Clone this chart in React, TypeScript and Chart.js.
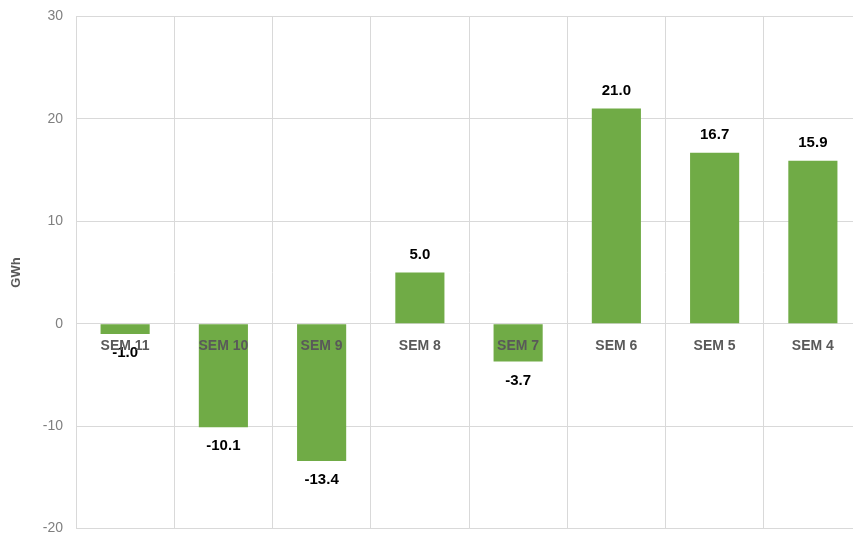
import React, { useEffect, useRef } from "react";
import { Chart, registerables } from "chart.js";

Chart.register(...registerables);

const categories = ["SEM 11", "SEM 10", "SEM 9", "SEM 8", "SEM 7", "SEM 6", "SEM 5", "SEM 4"];
const values = [-1.0, -10.1, -13.4, 5.0, -3.7, 21.0, 16.7, 15.9];
const yTicks = [-20, -10, 0, 10, 20, 30];
const yTitle = "GWh";

const FONT = "'Liberation Sans', Arial, sans-serif";

const valueLabels = {
  id: "valueLabels",
  afterDatasetsDraw(chart: any) {
    const ctx = chart.ctx;
    const meta = chart.getDatasetMeta(0);
    const data = chart.data.datasets[0].data as number[];
    ctx.save();
    ctx.font = `bold 15px ${FONT}`;
    ctx.fillStyle = "#000000";
    ctx.textAlign = "center";
    ctx.textBaseline = "middle";
    meta.data.forEach((bar: any, i: number) => {
      const v = data[i];
      const y = v >= 0 ? bar.y - 18 : bar.y + 19;
      ctx.fillText(v.toFixed(1), bar.x, y);
    });
    ctx.restore();
  },
};

export default function App() {
  const ref = useRef<HTMLCanvasElement>(null);
  useEffect(() => {
    if (!ref.current) return;
    const chart = new Chart(ref.current, {
      type: "bar",
      data: {
        labels: categories,
        datasets: [
          {
            data: values,
            backgroundColor: "#70AB46",
            borderWidth: 0,
            barPercentage: 0.5,
            categoryPercentage: 1.0,
          },
        ],
      },
      plugins: [valueLabels],
      options: {
        animation: false,
        responsive: false,
        devicePixelRatio: 1,
        layout: { padding: { top: 11, bottom: 8, left: 0, right: 0 } },
        plugins: {
          legend: { display: false },
          tooltip: { enabled: false },
        },
        scales: {
          x: {
            position: { y: 0 } as any,
            afterFit: (scale: any) => {
              scale.height = 0;
            },
            grid: { color: "#d9d9d9", drawTicks: false, offset: true },
            border: { display: true, color: "#d9d9d9" },
            ticks: {
              z: 1,
              color: "#595959",
              font: { family: FONT, size: 14, weight: "bold" },
              padding: 14,
              maxRotation: 0,
              autoSkip: false,
            },
          },
          y: {
            min: -20,
            max: 30,
            afterBuildTicks: (scale: any) => {
              scale.ticks = yTicks.map((v) => ({ value: v }));
            },
            afterFit: (scale: any) => {
              scale.width = 76;
            },
            grid: { color: "#d9d9d9", drawTicks: false },
            border: { display: true, color: "#d9d9d9" },
            ticks: {
              color: "#7f7f7f",
              font: { family: FONT, size: 14 },
              padding: 13,
            },
            title: {
              display: true,
              text: yTitle,
              color: "#595959",
              font: { family: FONT, size: 13, weight: "bold" },
              padding: { top: 9, bottom: 0 },
            },
          },
        },
      },
    });
    return () => chart.destroy();
  }, []);
  return (
    <div style={{ position: "absolute", left: 0, top: 0, width: 853, height: 536, overflow: "hidden", background: "#fff" }}>
      <canvas ref={ref} width={862} height={555} style={{ display: "block", position: "absolute", left: 0, top: -5 }} />
    </div>
  );
}
